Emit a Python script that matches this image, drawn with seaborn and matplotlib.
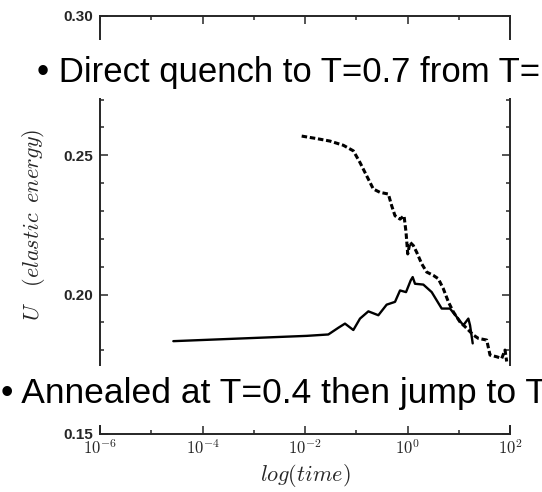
import numpy as np
import pandas as pd
import matplotlib
matplotlib.use("Agg")
import matplotlib.pyplot as plt
import seaborn as sns
from matplotlib.patches import Rectangle
from matplotlib.ticker import FixedLocator, NullFormatter

# ---- data (log10 of time, elastic energy U) ----
quench_logt = [-2.065, -1.772, -1.512, -1.252, -1.057, -0.927, -0.796, -0.667, -0.537,
               -0.374, -0.309, -0.244, -0.146, -0.068, -0.029, 0.004, 0.049, 0.114,
               0.179, 0.276, 0.374, 0.504, 0.601, 0.699, 0.797, 0.894, 1.024, 1.122,
               1.220, 1.284, 1.382, 1.545, 1.610, 1.740, 1.838, 1.902, 1.935]
quench_U = [0.2569, 0.2560, 0.2551, 0.2536, 0.2516, 0.2474, 0.2426, 0.2379, 0.2367,
            0.2361, 0.2319, 0.2283, 0.2271, 0.2283, 0.2224, 0.2146, 0.2188, 0.2176,
            0.2152, 0.2111, 0.2081, 0.2069, 0.2057, 0.2021, 0.1974, 0.1938, 0.1902,
            0.1885, 0.1867, 0.1855, 0.1843, 0.1837, 0.1783, 0.1777, 0.1771, 0.1801,
            0.1760]

anneal_logt = [-4.569, -1.967, -1.545, -1.350, -1.220, -1.057, -0.927, -0.764, -0.569,
               -0.407, -0.244, -0.146, -0.029, 0.062, 0.101, 0.146, 0.309, 0.472,
               0.667, 0.829, 0.960, 1.089, 1.187, 1.220, 1.272]
anneal_U = [0.1833, 0.1852, 0.1857, 0.1881, 0.1896, 0.1873, 0.1914, 0.1940, 0.1926,
            0.1964, 0.1974, 0.2015, 0.2009, 0.2051, 0.2063, 0.2039, 0.2036, 0.2009,
            0.1950, 0.1950, 0.1920, 0.1890, 0.1914, 0.1890, 0.1825]

x_major = [-6, -4, -2, 0, 2]
x_minor = [-5, -3, -1, 1]
x_labels = [r'$10^{-6}$', r'$10^{-4}$', r'$10^{-2}$', r'$10^{0}$', r'$10^{2}$']
y_major = [0.15, 0.20, 0.25, 0.30]
y_labels = ['0.15', '0.20', '0.25', '0.30']
y_minor = [0.16, 0.17, 0.18, 0.19, 0.21, 0.22, 0.23, 0.24, 0.26, 0.27, 0.28, 0.29]

text_top = "\u2022 Direct quench to T=0.7 from T="
text_bottom = "\u2022 Annealed at T=0.4 then jump to T"

# ---- frame ----
sns.set_style("ticks")
plt.rcParams['font.family'] = ['Liberation Sans', 'DejaVu Sans']
plt.rcParams['mathtext.fontset'] = 'cm'

df_q = pd.DataFrame({"time": 10.0 ** np.array(quench_logt), "U": quench_U})
df_a = pd.DataFrame({"time": 10.0 ** np.array(anneal_logt), "U": anneal_U})

fig = plt.figure(figsize=(5.42, 4.92), dpi=100)
ax = fig.add_axes([0.1845, 0.118, 0.7565, 0.8495])

sns.lineplot(data=df_q, x="time", y="U", ax=ax, color="black", lw=2.2,
             sort=False, estimator=None)
ax.lines[-1].set_dashes([1.8, 0.9])
sns.lineplot(data=df_a, x="time", y="U", ax=ax, color="black", lw=1.7,
             sort=False, estimator=None)

ax.set_xscale("log")
ax.set_xlim(1e-6, 1e2)
ax.set_ylim(0.15, 0.30)

ax.set_xticks([10.0 ** e for e in x_major])
ax.set_xticklabels(x_labels)
ax.xaxis.set_minor_locator(FixedLocator([10.0 ** e for e in x_minor]))
ax.xaxis.set_minor_formatter(NullFormatter())
ax.set_yticks(y_major)
ax.set_yticklabels(y_labels, fontweight='bold')
ax.yaxis.set_minor_locator(FixedLocator(y_minor))
ax.yaxis.set_minor_formatter(NullFormatter())

for s in ax.spines.values():
    s.set_visible(True)
    s.set_linewidth(1.4)
ax.tick_params(which='both', direction='in', top=True, right=True, width=1.1)
ax.tick_params(which='major', length=6)
ax.tick_params(which='minor', length=3)
ax.tick_params(axis='y', which='major', labelsize=11, pad=5)
ax.tick_params(axis='x', which='major', labelsize=12, pad=3)

ax.set_xlabel(r'$log(time)$', fontsize=16, labelpad=4)
ax.set_ylabel(r'$U\quad(elastic\;\;energy)$', fontsize=16, labelpad=12)

# ---- overlay boxes with text ----
fig.patches.append(Rectangle((0, 0.801), 1, 0.118, transform=fig.transFigure,
                             facecolor='white', edgecolor='none', zorder=10))
fig.patches.append(Rectangle((0, 0.136), 1, 0.120, transform=fig.transFigure,
                             facecolor='white', edgecolor='none', zorder=10))
fig.text(37 / 542, 1 - 82 / 492, text_top, fontsize=25, color='black',
         ha='left', va='baseline', zorder=11)
fig.text(1 / 542, 1 - 403 / 492, text_bottom, fontsize=25.5, color='black',
         ha='left', va='baseline', zorder=11)

fig.savefig("out.png", dpi=100)
